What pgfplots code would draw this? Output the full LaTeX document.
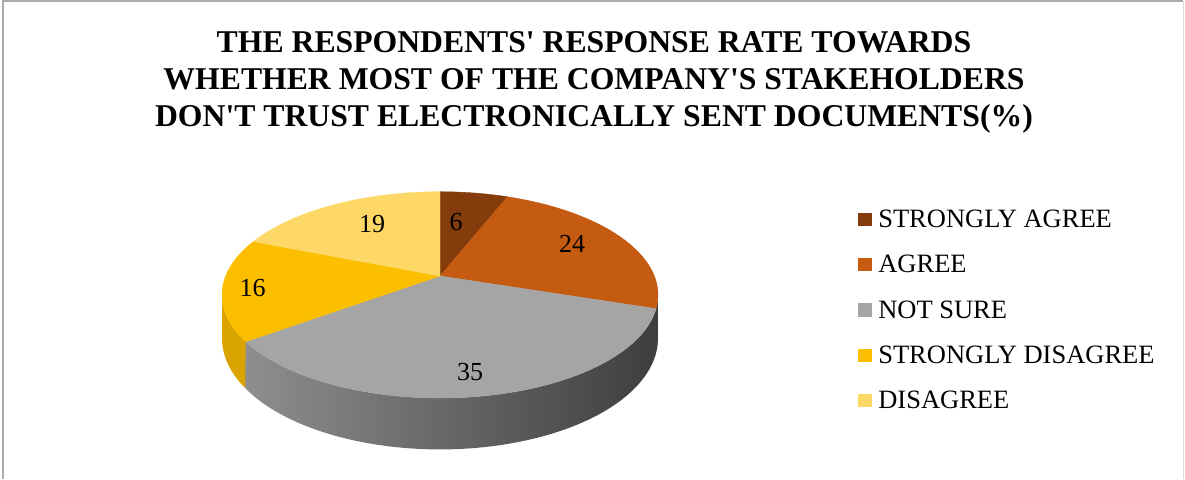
\documentclass[border=0pt]{standalone}
\usepackage{fontspec}
\setmainfont{Liberation Serif}
\usepackage{pgfplots}
\pgfplotsset{compat=1.18}

\definecolor{cSA}{HTML}{843C0C}
\definecolor{cA}{HTML}{C55A11}
\definecolor{cNS}{HTML}{A5A5A5}
\definecolor{cSD}{HTML}{FBBF00}
\definecolor{cD}{HTML}{FDD866}
\definecolor{cSDside}{HTML}{D9A400}
\definecolor{sideL}{HTML}{8E8E8E}
\definecolor{sideR}{HTML}{3E3E3E}
\definecolor{frameA}{HTML}{ABABAB}
\definecolor{frameB}{HTML}{DADADA}

% geometry of the 3-D pie (pixels)
\def\cx{440}
\def\cy{203}
\def\ra{214.3}
\def\rb{99.7}
\def\kk{0.183}
\def\hh{42}

% top face of a slice: #1 = cumulative start (%), #2 = value (%), #3 = colour
\newcommand{\toparc}[3]{%
  \pgfmathsetmacro{\tA}{90-3.6*(#1+#2)}%
  \pgfmathsetmacro{\tB}{90-3.6*(#1)}%
  \addplot[forget plot, fill=#3, draw=#3, line width=0.4pt,
    domain=\tA:\tB, samples=90, variable=\t]
    ({\cx+\ra*cos(\t)/(1+\kk*sin(\t))},{\cy+\rb*sin(\t)/(1+\kk*sin(\t))})
    -- (axis cs:\cx,\cy) -- cycle;
}
% side wall between angles #1 < #2, style #3
\newcommand{\sidepart}[3]{%
  \addplot[forget plot, #3, domain=0:2, samples=161, variable=\s,
    declare function={T(\u)=(\u<=1) ? ((#1)+((#2)-(#1))*\u) : ((#2)-((#2)-(#1))*(\u-1));}]
    ({\cx+\ra*cos(T(\s))/(1+\kk*sin(T(\s)))},
     {\cy+(\rb*sin(T(\s))-\hh*(\s>1))/(1+\kk*sin(T(\s)))})
    -- cycle;
}

\begin{document}
\begin{tikzpicture}
\begin{axis}[
  scale only axis, width=1185pt, height=479pt,
  xmin=0, xmax=1185, ymin=0, ymax=479,
  hide axis,
  legend image code/.code={\fill[#1] (0pt,-6.7pt) rectangle (13.4pt,6.7pt);},
  legend cell align=left,
  legend style={draw=none, fill=none, inner sep=0pt, outer sep=0pt,
    font=\fontsize{26.5}{31}\selectfont,
    at={(axis description cs:0.7243,0.5616)}, anchor=north west,
    row sep=26.2pt, column sep=6.6pt,
    nodes={inner sep=0pt}},
]
% frame
\draw[frameA, line width=2pt] (axis cs:3,0) -- (axis cs:3,477.5) -- (axis cs:1183,477.5);
\draw[frameB, line width=1pt] (axis cs:1183,477.5) -- (axis cs:1183,0);

% legend entries
\addlegendimage{fill=cSA, draw=none}
\addlegendentry{STRONGLY AGREE}
\addlegendimage{fill=cA, draw=none}
\addlegendentry{AGREE}
\addlegendimage{fill=cNS, draw=none}
\addlegendentry{NOT SURE}
\addlegendimage{fill=cSD, draw=none}
\addlegendentry{STRONGLY DISAGREE}
\addlegendimage{fill=cD, draw=none}
\addlegendentry{DISAGREE}

% side walls (front half only)
\sidepart{-144}{-10.5}{left color=sideL, right color=sideR, draw=none}
\sidepart{-169.5}{-144}{fill=cSDside, draw=none}

% top faces: start, value, colour  (6, 24, 35, 16, 19)
\toparc{0}{6}{cSA}
\toparc{6}{24}{cA}
\toparc{30}{35}{cNS}
\toparc{65}{16}{cSD}
\toparc{81}{19}{cD}

% data labels
\begin{scope}[every node/.style={font=\fontsize{26}{30}\selectfont, inner sep=0pt}]
\node at (axis cs:456,257.3) {6};
\node at (axis cs:572,235) {24};
\node at (axis cs:470,107.3) {35};
\node at (axis cs:252.7,191) {16};
\node at (axis cs:372,255) {19};
\end{scope}

% title
\begin{scope}[every node/.style={font=\fontsize{31.7}{37}\selectfont\bfseries, inner sep=0pt, anchor=base}]
\node at (axis cs:594,426.5) {THE RESPONDENTS\textquotesingle{} RESPONSE RATE TOWARDS};
\node at (axis cs:594,389.5) {WHETHER MOST OF THE COMPANY\textquotesingle{}S STAKEHOLDERS};
\node at (axis cs:594,352.5) {DON\textquotesingle{}T TRUST ELECTRONICALLY SENT DOCUMENTS(\%)};
\end{scope}
\end{axis}
\pgfresetboundingbox
\path (current axis.south west) rectangle (current axis.north east);
\end{tikzpicture}
\end{document}
